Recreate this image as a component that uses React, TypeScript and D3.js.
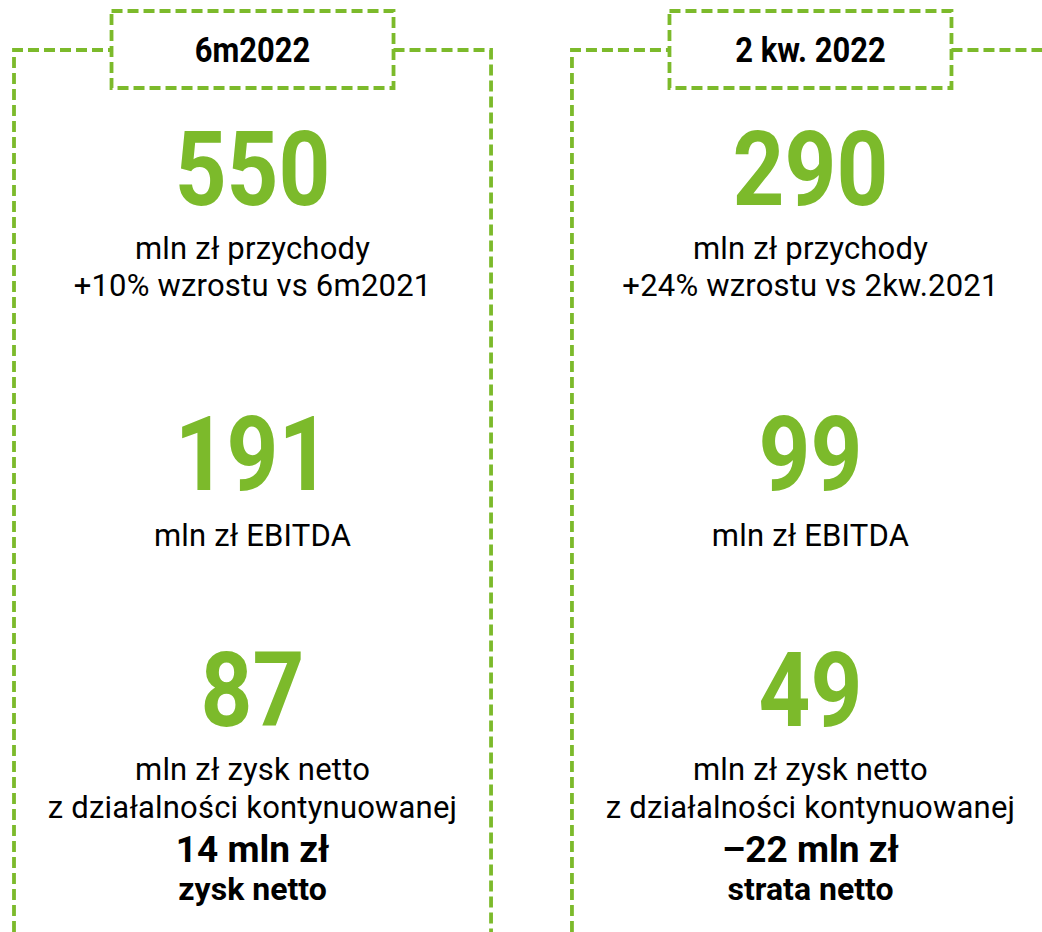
import * as React from "react";
import { useEffect, useRef } from "react";
import * as d3 from "d3";

const periods = ["6m2022", "2 kw. 2022"];
const revenue = [550, 290];
const revenueNotes = ["+10% wzrostu vs 6m2021", "+24% wzrostu vs 2kw.2021"];
const ebitda = [191, 99];
const netContinuing = [87, 49];
const netResult = ["14 mln zł", "–22 mln zł"];
const netResultLabels = ["zysk netto", "strata netto"];

const WIDTH = 1042;
const HEIGHT = 932;
const GREEN = "#7cba2b";

const App = () => {
    const ref = useRef<SVGSVGElement>(null);

    useEffect(() => {
        const svg = d3.select(ref.current);
        svg.selectAll("*").remove();

        // one band per period; right panel runs off the page edge
        const x = d3.scaleBand<string>()
            .domain(periods)
            .range([14, 1049])
            .paddingInner(0.145)
            .paddingOuter(0);

        const panels = svg.selectAll("g.panel")
            .data(periods)
            .enter()
            .append("g")
            .attr("class", "panel");

        const boxHalf = 141;
        const lineY = 50;

        panels.each(function (p, i) {
            const g = d3.select(this);
            const x0 = x(p) as number;
            const x1 = x0 + x.bandwidth();
            const cx = x0 + x.bandwidth() / 2;

            const dashed = (sel: d3.Selection<SVGPathElement, unknown, null, undefined>) => sel
                .attr("fill", "none")
                .attr("stroke", GREEN)
                .attr("stroke-width", 3.8)
                .attr("stroke-dasharray", "11 5");

            // frame: left vertical + line to box, line from box to right vertical
            g.append("path")
                .attr("d", `M${x0},${HEIGHT} V${lineY} H${cx - boxHalf}`)
                .call(dashed);
            g.append("path")
                .attr("d", `M${cx + boxHalf},${lineY} H${x1} V${HEIGHT}`)
                .call(dashed);
            g.append("path")
                .attr("d", `M${cx - boxHalf},11 H${cx + boxHalf} V88 H${cx - boxHalf} Z`)
                .call(dashed);

            const text = (str: string, y: number, size: number, bold: boolean, color = "#000", sx = 1) => g.append("text")
                .attr("transform", `translate(${cx},${y}) scale(${sx},1)`)
                .attr("text-anchor", "middle")
                .style("font-family", "Roboto, sans-serif")
                .style("font-weight", bold ? 700 : 400)
                .style("font-size", `${size}px`)
                .style("letter-spacing", bold ? "0px" : "0.2px")
                .style("fill", color)
                .text(str);

            text(p, 62, 36, true, "#000", 0.86);

            text(String(revenue[i]), 205, 104, true, GREEN, 0.87);
            text("mln zł przychody", 259, 31, false);
            text(revenueNotes[i], 296, 31, false);

            text(String(ebitda[i]), 490, 104, true, GREEN, 0.87);
            text("mln zł EBITDA", 546, 31, false);

            text(String(netContinuing[i]), 726, 104, true, GREEN, 0.87);
            text("mln zł zysk netto", 780, 31, false);
            text("z działalności kontynuowanej", 818, 31, false);
            text(netResult[i], 862, 37, true);
            text(netResultLabels[i], 900, 32, true);
        });
    }, []);

    return (
        <svg
            ref={ref}
            width={WIDTH}
            height={HEIGHT}
            style={{ position: "absolute", left: 0, top: 0, background: "#fff" }}
        />
    );
};

export default App;
